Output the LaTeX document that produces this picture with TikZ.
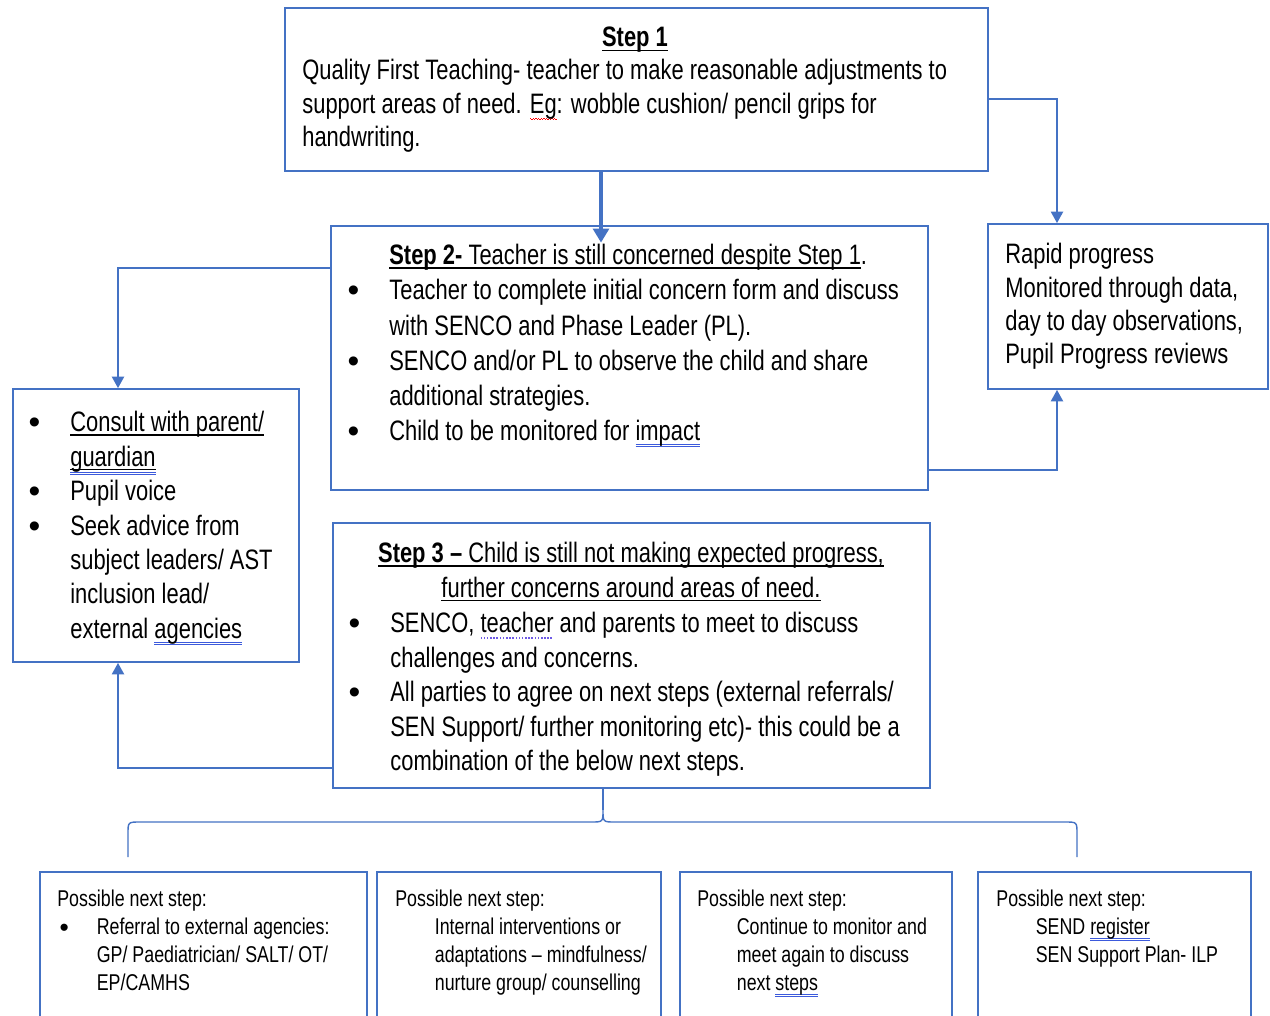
\documentclass[tikz,border=0pt]{standalone}
\usepackage{fontspec}
\setmainfont{Liberation Sans}[FakeStretch=0.78]
\newfontfamily{\bulfont}{Liberation Sans}
\usetikzlibrary{positioning,fit,arrows.meta,calc}

\definecolor{boxblue}{RGB}{68,114,196}
\definecolor{proofblue}{RGB}{60,90,220}
\definecolor{proofpurple}{RGB}{110,90,230}

\newcommand{\bigtxt}{\fontsize{16}{19.6}\selectfont}
\newcommand{\smalltxt}{\fontsize{13}{15.8}\selectfont}
\newcommand{\bul}{\llap{\raisebox{-1.2pt}{\bulfont\fontsize{19}{19}\selectfont\textbullet}\hspace{0.6cm}}}
\newcommand{\smallbul}{\llap{\raisebox{-1pt}{\bulfont\fontsize{15}{15}\selectfont\textbullet}\hspace{0.56cm}}}
\newcommand{\ind}{\hspace*{0.79cm}}
% underlines and proofing marks as they show in the picture
\newlength{\mkw}
\newcommand{\ulx}[1]{\settowidth{\mkw}{#1}\rlap{\rule[-2.2pt]{\mkw}{0.7pt}}#1}
\newcommand{\proofuu}[1]{\settowidth{\mkw}{#1}\rlap{\textcolor{proofblue}{\rlap{\rule[-2.6pt]{\mkw}{0.45pt}}\rule[-3.7pt]{\mkw}{0.45pt}}}#1}
\newcommand{\ulproof}[1]{\settowidth{\mkw}{#1}\rlap{\rule[-2.2pt]{\mkw}{0.7pt}}\rlap{\textcolor{proofblue}{\rlap{\rule[-3.6pt]{\mkw}{0.45pt}}\rule[-4.7pt]{\mkw}{0.45pt}}}#1}
\newcommand{\proofdot}[1]{\settowidth{\mkw}{#1}\rlap{\textcolor{proofpurple}{\xleaders\hbox{\rule[-3.4pt]{0.9pt}{0.9pt}\kern0.9pt}\hskip\mkw}}#1}
\newcommand{\redwave}[1]{\settowidth{\mkw}{#1}\rlap{\textcolor{red}{\xleaders\hbox{\rule[-3pt]{0.7pt}{0.5pt}\rule[-3.7pt]{0.7pt}{0.5pt}}\hskip\mkw}}#1}

\begin{document}
\begin{tikzpicture}[x=0.02cm, y=-0.02cm]
    \tikzset{box/.style={draw=boxblue, line width=1.1pt, inner sep=0pt},
             link/.style={draw=boxblue, line width=0.8pt},
             arr/.style={-{Triangle[width=7pt,length=6.5pt]}},
             txt/.style={anchor=north west, inner sep=0pt, align=left, font=\bigtxt},
             small/.style={anchor=north west, inner sep=0pt, align=left, font=\smalltxt}}

    \useasboundingbox (0,0) rectangle (1270,1015);
    \fill[white] (0,0) rectangle (1270,1015);
    \clip (0,0) rectangle (1270,1015);

    % boxes
    \node[box, fit={(285,8) (988,171)}]   (step1) {};
    \node[box, fit={(331,226) (928,490)}] (step2) {};
    \node[box, fit={(988,224) (1268,389)}] (rapid) {};
    \node[box, fit={(13,389) (299,662)}]  (consult) {};
    \node[box, fit={(333,523) (930,788)}] (step3) {};
    \node[box, fit={(40,872) (367,1040)}]  (next1) {};
    \node[box, fit={(377,872) (661,1040)}] (next2) {};
    \node[box, fit={(680,872) (952,1040)}] (next3) {};
    \node[box, fit={(978,872) (1251,1040)}] (next4) {};

    % texts
    \node[txt, anchor=north, align=center] (head1) at (635,27) {\textbf{\ulx{Step 1}}};
    \node[txt, font=\fontsize{16}{19}\selectfont] (text1) at (302,59)
        {Quality First Teaching- teacher to make reasonable adjustments to\\support areas of need. \redwave{Eg}: wobble cushion/ pencil grips for\\handwriting.};
    \node[txt, font=\fontsize{16}{20}\selectfont] (text2) at (389,244)
        {\ulx{\textbf{Step 2-} Teacher is still concerned despite Step 1}.\\\bul Teacher to complete initial concern form and discuss\\with SENCO and Phase Leader (PL).\\\bul SENCO and/or PL to observe the child and share\\additional strategies.\\\bul Child to be monitored for \proofuu{impact}};
    \node[txt, font=\fontsize{16}{19}\selectfont] (textr) at (1005,243)
        {Rapid progress\\Monitored through data,\\day to day observations,\\Pupil Progress reviews};
    \node[txt] (textc) at (70,411)
        {\bul\ulx{Consult with parent/}\\\ulproof{guardian}\\\bul Pupil voice\\\bul Seek advice from\\subject leaders/ AST\\inclusion lead/\\external \proofuu{agencies}};
    \node[txt, anchor=north, align=center] (head3) at (631,542)
        {\ulx{\textbf{Step 3 –} Child is still not making expected progress,}\\\ulx{further concerns around areas of need.}};
    \node[txt] (text3) at (390,612)
        {\bul SENCO, \proofdot{teacher} and parents to meet to discuss\\challenges and concerns.\\\bul All parties to agree on next steps (external referrals/\\SEN Support/ further monitoring etc)- this could be a\\combination of the below next steps.};

    \node[small] (textn1) at (57,890)
        {Possible next step:\\\ind\smallbul Referral to external agencies:\\\ind GP/ Paediatrician/ SALT/ OT/\\\ind EP/CAMHS};
    \node[small] (textn2) at (395,890)
        {Possible next step:\\\ind Internal interventions or\\\ind adaptations – mindfulness/\\\ind nurture group/ counselling};
    \node[small] (textn3) at (697,890)
        {Possible next step:\\\ind Continue to monitor and\\\ind meet again to discuss\\\ind next \proofuu{steps}};
    \node[small] (textn4) at (996,890)
        {Possible next step:\\\ind SEND \proofuu{register}\\\ind SEN Support Plan- ILP};

    % connectors
    \draw[link, -{Triangle[width=9pt,length=8pt]}, line width=2pt] (601,0 |- step1.south) -- ([yshift=-10pt]601,0 |- step2.north);
    \draw[link, arr] (step1.east |- 0,99) -| (1057,0 |- rapid.north);
    \draw[link, arr] (step2.west |- 0,268) -| (118,0 |- consult.north);
    \draw[link, arr] (step2.east |- 0,470) -| (1057,0 |- rapid.south);
    \draw[link, arr] (step3.west |- 0,768) -| (118,0 |- consult.south);

    % brace over the next steps
    \coordinate (tip) at (603,810);
    \coordinate (bl) at (128,857);
    \coordinate (br) at (1077,857);
    \draw[link] (603,0 |- step3.south) -- (tip);
    \draw[link] (bl) -- (128,834) .. controls (128,822) .. (140,822) -- (591,822)
        .. controls (603,822) .. (tip) .. controls (603,822) .. (615,822) -- (1065,822)
        .. controls (1077,822) .. (1077,834) -- (br);
\end{tikzpicture}
\end{document}
